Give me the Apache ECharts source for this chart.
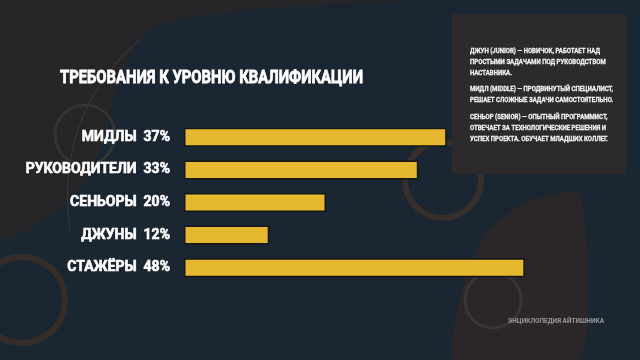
<!DOCTYPE html>
<html>
<head>
<meta charset="utf-8">
<script src="https://cdn.jsdelivr.net/npm/echarts@6/dist/echarts.min.js"></script>
<style>html,body{margin:0;padding:0;background:#1b2633;}#c{width:640px;height:360px;}</style>
</head>
<body>
<div id="c"></div>
<script>
const categories = ['МИДЛЫ', 'РУКОВОДИТЕЛИ', 'СЕНЬОРЫ', 'ДЖУНЫ', 'СТАЖЁРЫ'];
const values = [37, 33, 20, 12, 48];
const titleText = 'ТРЕБОВАНИЯ К УРОВНЮ КВАЛИФИКАЦИИ';
const noteLines = [
  ['ДЖУН (JUNIOR) — НОВИЧОК, РАБОТАЕТ НАД', 'ПРОСТЫМИ ЗАДАЧАМИ ПОД РУКОВОДСТВОМ', 'НАСТАВНИКА.'],
  ['МИДЛ (MIDDLE) — ПРОДВИНУТЫЙ СПЕЦИАЛИСТ,', 'РЕШАЕТ СЛОЖНЫЕ ЗАДАЧИ САМОСТОЯТЕЛЬНО.'],
  ['СЕНЬОР (SENIOR) — ОПЫТНЫЙ ПРОГРАММИСТ,', 'ОТВЕЧАЕТ ЗА ТЕХНОЛОГИЧЕСКИЕ РЕШЕНИЯ И', 'УСПЕХ ПРОЕКТА. ОБУЧАЕТ МЛАДШИХ КОЛЛЕГ.']
];
const footerText = 'ЭНЦИКЛОПЕДИЯ АЙТИШНИКА';

const ctx = document.createElement('canvas').getContext('2d');
function textW(t, font) { ctx.font = font; return ctx.measureText(t).width; }

const titleFont = 'bold 19px Roboto';
const titleScale = 303 / textW(titleText, titleFont);
const noteFont = 'bold 8px Roboto';
const noteScale = 130 / textW(noteLines[0][0], noteFont);
const footFont = 'bold 8px Roboto';
const footScale = 96 / textW(footerText, footFont);

const chart = echarts.init(document.getElementById('c'), null, {renderer: 'canvas'});

const noteGraphics = [];
let y = 51;
noteLines.forEach((para) => {
  para.forEach(line => {
    noteGraphics.push({
      type: 'text', x: 470, y: y, z: 20, scaleX: noteScale, originX: 0,
      style: {text: line, fill: '#f4f4f4', font: noteFont, textVerticalAlign: 'middle', stroke: '#f4f4f4', lineWidth: 0.3}
    });
    y += 10.8;
  });
  y += 6;
});

const option = {
  backgroundColor: '#1b2633',
  grid: {left: 184, top: 121, width: 355, height: 163, containLabel: false},
  xAxis: {type: 'value', min: 0, max: 50, show: false},
  yAxis: {
    type: 'category', data: categories, inverse: true,
    axisLine: {show: false}, axisTick: {show: false},
    axisLabel: {
      margin: 14, color: '#ffffff', fontFamily: 'Roboto', fontWeight: 'bold', fontSize: 14,
      textBorderColor: '#ffffff', textBorderWidth: 0.6,
      formatter: (v, i) => v + '  ' + values[i] + '%'
    }
  },
  series: [{
    type: 'bar', data: values, barWidth: 19, z: 10,
    itemStyle: {color: '#e6b830', borderColor: '#161616', borderWidth: 1.5},
    silent: true
  }],
  graphic: [
    {type: 'polygon', z: -10, shape: {smooth: 0.3, points: [[0,0],[415,0],[250,10],[150,30],[120,80],[100,150],[70,200],[0,235]]}, style: {fill: '#262628'}},
    {type: 'polygon', z: -10, shape: {smooth: 0.2, points: [[455,360],[462,290],[485,235],[525,203],[580,195],[580,360]]}, style: {fill: '#2b2728'}},
    {type: 'circle', z: -5, shape: {cx: 443, cy: 180, r: 38}, style: {fill: 'none', stroke: '#372f2b', lineWidth: 6}},
    {type: 'circle', z: -5, shape: {cx: 22, cy: 300, r: 43}, style: {fill: 'none', stroke: '#372d28', lineWidth: 6}},
    {type: 'circle', z: -5, shape: {cx: 85, cy: 135, r: 30}, style: {fill: 'none', stroke: '#363433', lineWidth: 3}},
    {type: 'circle', z: -5, shape: {cx: 493, cy: 300, r: 28}, style: {fill: 'none', stroke: '#363638', lineWidth: 3}},
    {type: 'bezierCurve', z: -6, shape: {x1: 140, y1: 40, x2: 70, y2: 230, cpx1: 80, cpy1: 90, cpx2: 60, cpy2: 160}, style: {fill: 'none', stroke: '#3a3a3c', lineWidth: 1}},
    {type: 'text', x: 60, y: 78, z: 20, scaleX: titleScale, originX: 0,
     style: {text: titleText, fill: '#ffffff', font: titleFont, textVerticalAlign: 'middle', stroke: '#ffffff', lineWidth: 0.8}},
    {type: 'rect', z: 15, shape: {x: 452, y: 14, width: 174, height: 160}, style: {fill: '#2c2a2b'}},
    ...noteGraphics,
    {type: 'text', x: 508, y: 321, z: 20, scaleX: footScale, originX: 0,
     style: {text: footerText, fill: '#9a9a9c', font: footFont, textVerticalAlign: 'middle'}}
  ]
};
chart.setOption(option);
</script>
</body>
</html>
